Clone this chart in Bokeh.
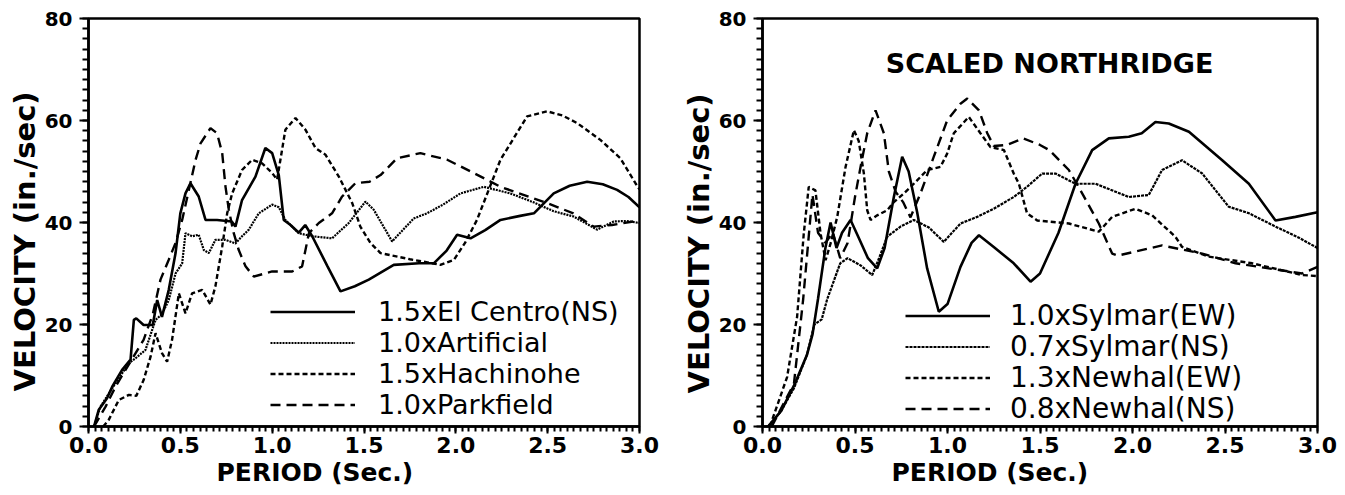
from bokeh.plotting import figure
from bokeh.layouts import row
from bokeh.models import Legend, LegendItem, Label, FixedTicker, Range1d, Title
from bokeh.embed import file_html
from bokeh.resources import INLINE

# ---------------- data: left panel ----------------
T_ELCENTRO = [0.03, 0.056, 0.10, 0.129, 0.183, 0.229, 0.247, 0.26, 0.30, 0.35, 0.374, 0.40, 0.437, 0.474,
              0.50, 0.528, 0.555, 0.60, 0.637, 0.70, 0.78, 0.80, 0.836, 0.909, 0.963, 1.0, 1.036, 1.063,
              1.10, 1.145, 1.18, 1.218, 1.30, 1.372, 1.45, 1.526, 1.662, 1.80, 1.88, 1.95, 2.007, 2.08,
              2.16, 2.243, 2.35, 2.425, 2.533, 2.62, 2.715, 2.80, 2.878, 2.94, 3.0]
V_ELCENTRO = [0, 3.3, 5.5, 7.8, 11.1, 13.1, 20.9, 21.2, 19.9, 19.9, 24.8, 21.5, 26.8, 34,
              41.8, 45.7, 47.7, 45.1, 40.5, 40.5, 40.2, 39.2, 44.4, 49, 54.6, 53.6, 49.3, 40.5,
              39.5, 38, 39.5, 37.3, 31.5, 26.5, 27.5, 28.8, 31.7, 32, 32, 34.5, 37.6, 36.9,
              38.5, 40.5, 41.3, 41.8, 45.7, 47.2, 48, 47.5, 46.4, 45, 43]

T_ARTIFICIAL = [0.03, 0.065, 0.147, 0.22, 0.26, 0.31, 0.365, 0.40, 0.437, 0.474, 0.51, 0.528, 0.564, 0.60,
                0.628, 0.655, 0.691, 0.746, 0.80, 0.836, 0.873, 0.927, 1.0, 1.036, 1.072, 1.145, 1.218,
                1.326, 1.417, 1.508, 1.553, 1.653, 1.771, 1.843, 1.93, 2.025, 2.152, 2.297, 2.42, 2.533,
                2.64, 2.769, 2.86, 2.93, 3.0]
V_ARTIFICIAL = [0, 3.9, 8.5, 12.4, 13.5, 15, 20.9, 22, 24.8, 30, 32, 37.9, 37.3, 37.6,
                34.6, 34, 36.6, 36.6, 35.9, 37.3, 38.6, 41.8, 43.5, 43, 40.5, 37.9, 37.3,
                36.9, 39.9, 44.1, 42.5, 36.3, 40.8, 41.8, 43.5, 45.7, 47, 45.7, 44, 42.2,
                41.2, 38.6, 40.2, 40.3, 39.9]

T_HACHINOHE = [0.08, 0.11, 0.165, 0.22, 0.26, 0.30, 0.338, 0.365, 0.40, 0.428, 0.455, 0.492, 0.528, 0.564,
               0.619, 0.664, 0.691, 0.728, 0.755, 0.782, 0.836, 0.891, 0.945, 1.0, 1.027, 1.072, 1.127,
               1.181, 1.236, 1.29, 1.363, 1.436, 1.48, 1.535, 1.59, 1.75, 1.916, 1.99, 2.05, 2.115,
               2.243, 2.388, 2.497, 2.58, 2.66, 2.787, 2.896, 2.978, 3.0]
V_HACHINOHE = [0, 1.3, 5.2, 6.2, 6.0, 9.1, 13.7, 18.3, 14.4, 12.7, 17, 26.1, 22.2, 26.1,
               26.8, 23.9, 27.5, 35.3, 41.8, 45.7, 50.3, 52.3, 51.6, 49.7, 48.4, 58.2, 60.5,
               58.2, 54.6, 53.3, 49, 43.8, 39.2, 36, 34, 32.8, 31.7, 32.7, 36, 40.5,
               52.3, 60.8, 61.8, 61, 59.5, 56.2, 52.6, 47.7, 46.5]

T_PARKFIELD = [0.03, 0.093, 0.15, 0.2, 0.25, 0.3, 0.35, 0.392, 0.437, 0.474, 0.51, 0.583, 0.61, 0.664,
               0.70, 0.728, 0.746, 0.764, 0.79, 0.818, 0.855, 0.9, 1.0, 1.109, 1.163, 1.2, 1.254,
               1.326, 1.381, 1.453, 1.53, 1.59, 1.68, 1.807, 1.953, 2.098, 2.243, 2.497, 2.64, 2.75,
               2.85, 2.968, 3.0]
V_PARKFIELD = [0, 3.9, 8, 11, 14, 17, 22, 28.8, 32.7, 36, 40.5, 52.3, 55.5, 58.5,
               57.5, 53.6, 47, 42.5, 38, 34.6, 31.4, 29.4, 30.4, 30.4, 31.4, 37.9, 39.9,
               41.8, 45.1, 47.7, 48, 49.3, 52.6, 53.6, 52.3, 49.7, 47, 43.8, 41.8, 39.2,
               39.5, 40.2, 40]

# ---------------- data: right panel ----------------
T_SYLMAR_EW = [0.03, 0.1, 0.17, 0.24, 0.27, 0.30, 0.34, 0.368, 0.40, 0.43, 0.476, 0.52, 0.57, 0.62, 0.66,
               0.71, 0.755, 0.79, 0.836, 0.89, 0.953, 1.0, 1.07, 1.13, 1.17, 1.25, 1.358, 1.449, 1.5,
               1.6, 1.692, 1.782, 1.872, 1.98, 2.05, 2.124, 2.196, 2.305, 2.485, 2.629, 2.773, 2.881, 3.0]
V_SYLMAR_EW = [0, 3, 8, 14, 18, 25, 35, 40, 35, 38, 40.5, 37, 33, 31, 35,
               45, 52.9, 50, 42, 31, 22.5, 24, 31.3, 36, 37.5, 35.2, 32, 28.4, 30,
               38, 47.6, 54.2, 56.5, 56.8, 57.5, 59.7, 59.4, 57.8, 52.2, 47.6, 40.4, 41.1, 42]

T_SYLMAR_NS = [0.03, 0.1, 0.17, 0.24, 0.28, 0.32, 0.35, 0.4, 0.42, 0.46, 0.53, 0.593, 0.63, 0.674, 0.746,
               0.818, 0.9, 0.98, 1.07, 1.16, 1.25, 1.358, 1.43, 1.512, 1.584, 1.692, 1.8, 1.98, 2.088,
               2.16, 2.268, 2.377, 2.52, 2.63, 2.773, 2.9, 3.0]
V_SYLMAR_NS = [0, 3, 7.5, 14, 20, 21, 25, 30, 32, 33, 31.6, 29.7, 33, 37.2, 39.2,
               40.5, 39, 36.2, 39.8, 41.1, 42.7, 45, 47, 49.6, 49.6, 47.6, 47.6, 45, 45.4,
               50.3, 52.2, 49.6, 43.1, 41.8, 39.2, 37, 35]

T_NEWHAL_EW = [0.04, 0.133, 0.187, 0.223, 0.25, 0.286, 0.314, 0.341, 0.368, 0.404, 0.449, 0.494, 0.52,
               0.548, 0.566, 0.584, 0.62, 0.674, 0.71, 0.764, 0.818, 0.89, 0.962, 0.998, 1.034, 1.115,
               1.178, 1.232, 1.305, 1.358, 1.386, 1.43, 1.485, 1.656, 1.818, 1.89, 2.016, 2.106, 2.232,
               2.268, 2.412, 2.647, 2.917, 3.0]
V_NEWHAL_EW = [0, 9.7, 21.5, 37.8, 47, 46.3, 37.8, 32.6, 35.9, 41.1, 50.9, 58.1, 56,
               49.6, 42.4, 40.5, 41.4, 42.4, 44, 45.7, 47.6, 50.3, 50.9, 53.5, 57.5, 60.7,
               57.5, 54.8, 54.2, 49.6, 47.6, 41.8, 40.4, 39.8, 38.2, 41.1, 42.7, 41.4, 37.2,
               35.2, 33.3, 32, 29.7, 29.5]

T_NEWHAL_NS = [0.05, 0.17, 0.22, 0.27, 0.30, 0.34, 0.38, 0.42, 0.46, 0.5, 0.53, 0.566, 0.611, 0.656,
               0.683, 0.72, 0.76, 0.8, 0.854, 0.926, 0.998, 1.07, 1.107, 1.17, 1.215, 1.25, 1.32,
               1.41, 1.5, 1.55, 1.656, 1.728, 1.818, 1.89, 1.92, 2.16, 2.377, 2.557, 2.917, 3.0]
V_NEWHAL_NS = [0, 8.4, 25, 45.5, 38, 36, 38, 33, 36, 45, 50.9, 57.5, 62, 57.5,
               50, 46, 44, 41, 45.7, 52.9, 60, 63.3, 64.3, 62, 57.5, 55, 55.2,
               56.5, 55.2, 54.2, 50.3, 45.7, 39.8, 33.9, 33.5, 35.5, 33.9, 32, 30, 31.3]

X_TICKS = [0.0, 0.5, 1.0, 1.5, 2.0, 2.5, 3.0]
X_TICK_LABELS = ["0.0", "0.5", "1.0", "1.5", "2.0", "2.5", "3.0"]
Y_TICKS = [0, 20, 40, 60, 80]
Y_TICK_LABELS = ["0", "20", "40", "60", "80"]

LEFT_NAMES = ["1.5xEl Centro(NS)", "1.0xArtificial", "1.5xHachinohe", "1.0xParkfield"]
RIGHT_NAMES = ["1.0xSylmar(EW)", "0.7xSylmar(NS)", "1.3xNewhal(EW)", "0.8xNewhal(NS)"]
RIGHT_TITLE = "SCALED NORTHRIDGE"
X_LABEL = "PERIOD (Sec.)"
Y_LABEL = "VELOCITY (in./sec)"

FONT = "DejaVu Sans"


def make_panel(frame_w, b_left, b_right, b_top, b_bottom, xlab_offset, ylab_offset):
    p = figure(frame_width=frame_w, frame_height=408,
               min_border_left=b_left, min_border_right=b_right,
               min_border_top=b_top, min_border_bottom=b_bottom,
               x_range=Range1d(0, 3), y_range=Range1d(0, 80),
               output_backend="svg", toolbar_location=None,
               background_fill_color="white", border_fill_color="white")
    p.grid.visible = False
    p.outline_line_color = "black"
    p.outline_line_width = 2.5
    p.xaxis.ticker = FixedTicker(ticks=X_TICKS, minor_ticks=[i / 28 for i in range(85)])
    p.yaxis.ticker = FixedTicker(ticks=Y_TICKS, minor_ticks=list(range(0, 81, 2)))
    p.xaxis.major_label_overrides = dict(zip(X_TICKS, X_TICK_LABELS))
    p.yaxis.major_label_overrides = dict(zip(Y_TICKS, Y_TICK_LABELS))
    for ax in (p.xaxis, p.yaxis):
        ax.axis_line_width = 2.5
        ax.axis_line_color = "black"
        ax.major_tick_in = 0
        ax.minor_tick_in = 0
        ax.major_tick_line_width = 2
        ax.minor_tick_line_width = 2
        ax.major_tick_line_color = "black"
        ax.minor_tick_line_color = "black"
        ax.major_label_text_font = FONT
        ax.major_label_text_font_style = "bold"
        ax.major_label_text_color = "black"
    p.xaxis.major_tick_out = 7
    p.xaxis.minor_tick_out = 5
    p.yaxis.major_tick_out = 9
    p.yaxis.minor_tick_out = 6
    p.xaxis.major_label_text_font_size = "22px"
    p.yaxis.major_label_text_font_size = "20px"
    p.xaxis.major_label_standoff = 3
    p.yaxis.major_label_standoff = 7

    xt = Title(text=X_LABEL, align="left", offset=xlab_offset, standoff=0,
               text_font=FONT, text_font_style="bold", text_font_size="25px", text_color="black")
    p.add_layout(xt, "below")
    yt = Title(text=Y_LABEL, align="left", offset=ylab_offset, standoff=0,
               text_font=FONT, text_font_style="bold", text_font_size="29px", text_color="black")
    p.add_layout(yt, "left")
    return p


def add_legend_rows(p, renderers, names, x, ys, standoff, size):
    # one single-row legend per entry, so that rows can sit as tightly as in the original
    for n, r, y in zip(names, renderers, ys):
        lg = Legend(items=[LegendItem(label=n, renderers=[r])], location=(x, y),
                    glyph_width=85, glyph_height=29, label_height=29,
                    label_standoff=standoff, spacing=0, padding=0, margin=0,
                    border_line_color=None, background_fill_alpha=0,
                    label_text_font=FONT, label_text_font_size=size, label_text_color="black")
        p.add_layout(lg)


# left panel
p1 = make_panel(551, 88, 21, 18, 62, 128, 35)
r1 = p1.line(T_ELCENTRO, V_ELCENTRO, line_color="black", line_width=2.6)
r2 = p1.line(T_ARTIFICIAL, V_ARTIFICIAL, line_color="black", line_width=2.2, line_dash="2 1")
r3 = p1.line(T_HACHINOHE, V_HACHINOHE, line_color="black", line_width=2.4, line_dash="5 3")
r4 = p1.line(T_PARKFIELD, V_PARKFIELD, line_color="black", line_width=2.4, line_dash="10 6")
add_legend_rows(p1, [r1, r2, r3, r4], LEFT_NAMES, 182, [99, 68, 37, 6], 23, "27px")

# right panel
p2 = make_panel(555, 102, 20, 18, 62, 129, 33)
s1 = p2.line(T_SYLMAR_EW, V_SYLMAR_EW, line_color="black", line_width=2.6)
s2 = p2.line(T_SYLMAR_NS, V_SYLMAR_NS, line_color="black", line_width=2.2, line_dash="3 1")
s3 = p2.line(T_NEWHAL_EW, V_NEWHAL_EW, line_color="black", line_width=2.4, line_dash="5 3")
s4 = p2.line(T_NEWHAL_NS, V_NEWHAL_NS, line_color="black", line_width=2.4, line_dash="10 6")
add_legend_rows(p2, [s1, s2, s3, s4], RIGHT_NAMES, 143, [94, 63, 32, 1], 20, "28px")
p2.add_layout(Label(x=0.666, y=71.2, text=RIGHT_TITLE, text_align="left", text_baseline="middle",
                    text_font=FONT, text_font_style="bold", text_font_size="27px", text_color="black"))

layout = row(p1, p2, spacing=0)
open("out.html", "w").write(file_html(layout, INLINE))
